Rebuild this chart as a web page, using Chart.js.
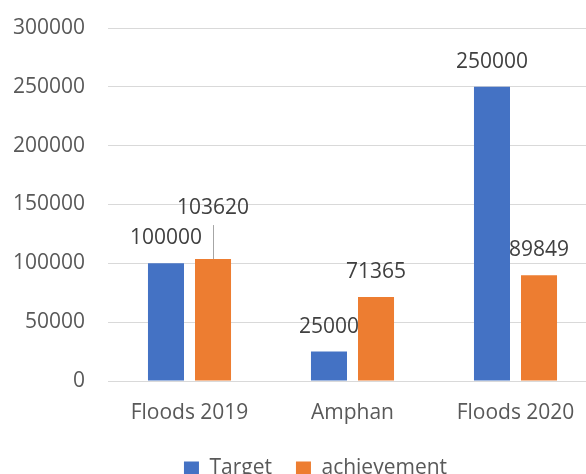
<!DOCTYPE html>
<html>
<head>
<meta charset="utf-8">
<script src="https://cdn.jsdelivr.net/npm/chart.js@4/dist/chart.umd.min.js"></script>
<style>
  html, body { margin:0; padding:0; background:#fff; overflow:hidden; }
  .wrap { position:relative; width:597px; height:489px; }
</style>
</head>
<body>
<div class="wrap"><canvas id="reliefChart"></canvas></div>
<script>
/* relief targets vs achievement per event */
const events = ['Floods 2019', 'Amphan', 'Floods 2020'];
const target = [100000, 25000, 250000];
const achievement = [103620, 71365, 89849];
const yTicks = [0, 50000, 100000, 150000, 200000, 250000, 300000];

const FONT = '"Open Sans", "Noto Sans", sans-serif';

/* value labels above bars, one of them lifted with a leader line */
const barValues = {
  id: 'barValues',
  afterDatasetsDraw(chart, args, opts) {
    const ctx = chart.ctx;
    ctx.save();
    ctx.font = '21px ' + FONT;
    ctx.fillStyle = '#404040';
    ctx.textAlign = 'center';
    ctx.textBaseline = 'middle';
    chart.data.datasets.forEach((ds, di) => {
      const meta = chart.getDatasetMeta(di);
      meta.data.forEach((bar, i) => {
        let rise = opts.rise;
        const lift = opts.lifted.find(l => l.dataset === di && l.index === i);
        if (lift) {
          rise = lift.rise;
          ctx.strokeStyle = '#a6a6a6';
          ctx.lineWidth = 1;
          ctx.beginPath();
          ctx.moveTo(Math.round(bar.x) + 0.5, bar.y - rise + 17);
          ctx.lineTo(Math.round(bar.x) + 0.5, bar.y);
          ctx.stroke();
        }
        ctx.fillText(String(ds.data[i]), bar.x, bar.y - rise);
      });
    });
    ctx.restore();
  }
};

/* legend sits a little right of the canvas centre */
const legendShift = {
  id: 'legendShift',
  afterLayout(chart, args, opts) {
    chart.legend.left += opts.dx;
    chart.legend.right += opts.dx;
  }
};

new Chart(document.getElementById('reliefChart'), {
  type: 'bar',
  data: {
    labels: events,
    datasets: [
      { label: 'Target', data: target, backgroundColor: '#4472c4' },
      { label: 'achievement', data: achievement, backgroundColor: '#ed7d31' }
    ]
  },
  options: {
    responsive: true,
    maintainAspectRatio: false,
    animation: false,
    layout: { padding: { top: 28, left: 13, right: 0, bottom: 0 } },
    datasets: { bar: { categoryPercentage: 0.577, barPercentage: 0.766 } },
    scales: {
      x: {
        grid: { display: false },
        border: { display: false },
        ticks: { color: '#595959', font: { family: FONT, size: 21 }, padding: 11 },
        afterFit: axis => { axis.height = 53; }
      },
      y: {
        min: yTicks[0],
        max: yTicks[yTicks.length - 1],
        afterBuildTicks: axis => { axis.ticks = yTicks.map(v => ({ value: v })); },
        grid: { color: '#d9d9d9', lineWidth: 1, drawTicks: false },
        border: { display: false },
        ticks: { color: '#595959', font: { family: FONT, size: 21 }, padding: 23,
                 callback: v => String(v) },
        afterFit: axis => { axis.width = 95; axis.paddingTop = 0; axis.paddingBottom = 0; }
      }
    },
    plugins: {
      legend: {
        position: 'bottom',
        labels: { color: '#595959', font: { family: FONT, size: 21 },
                  boxWidth: 15, boxHeight: 14, padding: 24 }
      },
      tooltip: { enabled: false },
      barValues: { rise: 25, lifted: [{ dataset: 1, index: 0, rise: 51 }] },
      legendShift: { dx: 10.5 }
    }
  },
  plugins: [barValues, legendShift]
});
</script>
</body>
</html>
